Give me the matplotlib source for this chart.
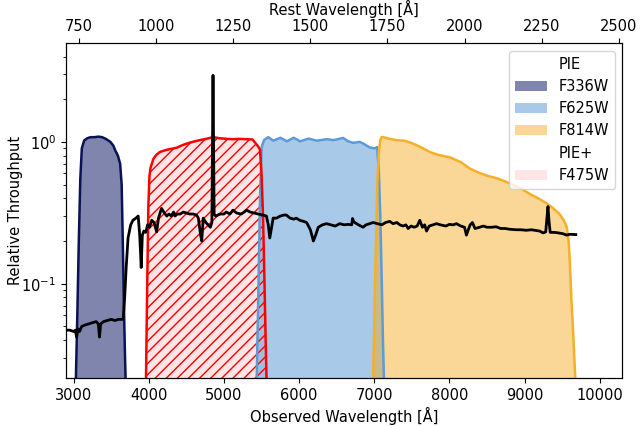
"""HST filter throughput curves over a z~3 galaxy spectrum."""
import matplotlib

matplotlib.use("Agg")
import matplotlib.pyplot as plt
from matplotlib.lines import Line2D

# redshift used for the rest-frame axis
ONE_PLUS_Z = 4.1

f336w_wl = [3010, 3030, 3050, 3070, 3090, 3110, 3140, 3180, 3225, 3280, 3330, 3380,
            3430, 3490, 3530, 3555, 3590, 3620, 3640, 3655, 3670, 3685, 3700, 3715]
f336w_tp = [0.005, 0.02, 0.06, 0.2, 0.55, 0.9, 1.02, 1.06, 1.08, 1.08, 1.09, 1.08,
            1.05, 1.0, 0.94, 0.87, 0.8, 0.70, 0.5, 0.2, 0.07, 0.03, 0.015, 0.004]

f475w_wl = [3945, 3963, 3980, 3995, 4010, 4025, 4063, 4100, 4150, 4240, 4373, 4450,
            4550, 4680, 4760, 4855, 4950, 5050, 5120, 5200, 5300, 5380, 5455, 5480,
            5500, 5520, 5540, 5555, 5568, 5585]
f475w_tp = [0.005, 0.02, 0.1, 0.35, 0.58, 0.66, 0.76, 0.81, 0.85, 0.88, 0.91, 0.95,
            0.99, 1.03, 1.05, 1.08, 1.06, 1.05, 1.045, 1.05, 1.045, 1.04, 0.93, 0.88,
            0.6, 0.3, 0.1, 0.04, 0.02, 0.006]

f625w_wl = [5420, 5435, 5460, 5480, 5502, 5533, 5590, 5657, 5750, 5838, 5927, 6015,
            6125, 6237, 6370, 6450, 6498, 6586, 6652, 6719, 6807, 6851, 6940, 7007,
            7037, 7060, 7080, 7100, 7115, 7130, 7145]
f625w_tp = [0.005, 0.02, 0.1, 0.4, 0.92, 1.03, 1.08, 1.02, 1.07, 1.01, 1.07, 1.01,
            1.055, 1.02, 1.045, 1.03, 1.04, 1.067, 1.01, 0.985, 1.0, 0.975, 0.913, 0.90,
            0.92, 0.63, 0.3, 0.1, 0.04, 0.02, 0.005]

f814w_wl = [6970, 6984, 7010, 7040, 7060, 7080, 7100, 7150, 7200, 7295, 7400, 7500,
            7560, 7650, 7737, 7850, 8002, 8150, 8268, 8380, 8490, 8650, 8800, 8950,
            9066, 9180, 9288, 9380, 9463, 9520, 9560, 9585, 9600, 9620, 9641, 9676, 9695]
f814w_tp = [0.005, 0.02, 0.1, 0.5, 0.85, 1.03, 1.085, 1.07, 1.05, 1.03, 1.02, 0.98,
            0.95, 0.9, 0.85, 0.81, 0.78, 0.72, 0.65, 0.61, 0.58, 0.55, 0.51, 0.47,
            0.43, 0.40, 0.37, 0.34, 0.31, 0.28, 0.25, 0.2, 0.146, 0.08, 0.05, 0.02, 0.005]

spec_wl = [2900, 2950, 3000, 3025, 3040, 3060, 3080, 3110, 3150, 3200, 3250, 3300,
           3330, 3345, 3360, 3400, 3450, 3500, 3550, 3600, 3660, 3680, 3700, 3725,
           3760, 3790, 3830, 3860, 3880, 3900, 3915, 3935, 3960, 3985, 4010, 4040,
           4070, 4105, 4130, 4170, 4200, 4240, 4270, 4300, 4330, 4350, 4380, 4420,
           4460, 4500, 4545, 4590, 4635, 4660, 4690, 4705, 4725, 4760, 4790, 4820,
           4840, 4855, 4870, 4890, 4950, 5000, 5030, 5080, 5120, 5170, 5230, 5270,
           5300, 5350, 5400, 5455, 5520, 5565, 5590, 5610, 5635, 5655, 5700, 5750,
           5800, 5830, 5880, 5930, 5960, 6010, 6060, 6100, 6150, 6190, 6220, 6255,
           6310, 6365, 6420, 6480, 6540, 6600, 6650, 6700, 6710, 6725, 6740, 6790,
           6850, 6890, 6940, 6985, 7040, 7100, 7150, 7205, 7250, 7300, 7340, 7380,
           7420, 7450, 7490, 7530, 7570, 7605, 7640, 7670, 7695, 7730, 7780, 7828,
           7880, 7950, 8000, 8050, 8093, 8150, 8200, 8225, 8250, 8275, 8305, 8340,
           8400, 8450, 8500, 8560, 8620, 8680, 8740, 8800, 8890, 8950, 9020, 9090,
           9155, 9200, 9245, 9280, 9310, 9325, 9340, 9400, 9450, 9510, 9560, 9600,
           9680]
spec_flux = [0.047, 0.047, 0.046, 0.047, 0.042, 0.048, 0.046, 0.050, 0.051, 0.052, 0.053, 0.054,
             0.052, 0.042, 0.052, 0.054, 0.055, 0.056, 0.055, 0.056, 0.056, 0.08, 0.13, 0.21,
             0.26, 0.28, 0.29, 0.30, 0.22, 0.13, 0.22, 0.235, 0.23, 0.26, 0.25, 0.28,
             0.27, 0.232, 0.29, 0.34, 0.32, 0.30, 0.31, 0.30, 0.32, 0.30, 0.31, 0.31,
             0.32, 0.315, 0.31, 0.31, 0.305, 0.29, 0.22, 0.20, 0.29, 0.27, 0.26, 0.25,
             0.27, 2.95, 0.31, 0.30, 0.31, 0.31, 0.32, 0.31, 0.33, 0.315, 0.31, 0.32,
             0.33, 0.32, 0.315, 0.31, 0.305, 0.30, 0.26, 0.21, 0.25, 0.29, 0.29, 0.30,
             0.305, 0.305, 0.29, 0.285, 0.29, 0.28, 0.275, 0.27, 0.24, 0.20, 0.22, 0.25,
             0.26, 0.265, 0.26, 0.255, 0.265, 0.26, 0.262, 0.26, 0.288, 0.275, 0.27, 0.26,
             0.25, 0.26, 0.265, 0.27, 0.265, 0.26, 0.27, 0.275, 0.265, 0.27, 0.26, 0.255,
             0.26, 0.245, 0.255, 0.25, 0.255, 0.28, 0.25, 0.26, 0.235, 0.255, 0.26, 0.265,
             0.26, 0.255, 0.262, 0.26, 0.265, 0.255, 0.25, 0.22, 0.24, 0.26, 0.27, 0.245,
             0.25, 0.255, 0.25, 0.25, 0.252, 0.245, 0.245, 0.242, 0.24, 0.24, 0.238, 0.24,
             0.237, 0.235, 0.228, 0.232, 0.35, 0.27, 0.23, 0.23, 0.228, 0.225, 0.22, 0.223,
             0.222]

plt.rcParams["font.size"] = 10.5

fig = plt.figure(figsize=(6.41, 4.26), dpi=100)
ax = fig.add_axes([0.103, 0.112, 0.868, 0.786])

floor = 1e-3
h336 = ax.fill_between(f336w_wl, f336w_tp, floor, color="#010d5d", alpha=0.5, lw=0, label="F336W")
h475 = ax.fill_between(f475w_wl, f475w_tp, floor, color="red", alpha=0.1, lw=0, label="F475W")
h625 = ax.fill_between(f625w_wl, f625w_tp, floor, color="#4289d0", alpha=0.45, lw=0, label="F625W")
h814 = ax.fill_between(f814w_wl, f814w_tp, floor, color="#f4a816", alpha=0.45, lw=0, label="F814W")
ax.fill_between(f475w_wl, f475w_tp, floor, facecolor="none", edgecolor="red", hatch="///", lw=0)

ax.plot(f336w_wl, f336w_tp, color="#0a1255", lw=1.8)
ax.plot(f625w_wl, f625w_tp, color="#5b9bd8", lw=1.8)
ax.plot(f814w_wl, f814w_tp, color="#f5b028", lw=1.8)
ax.plot(f475w_wl, f475w_tp, color="red", lw=1.8)
ax.plot(spec_wl, spec_flux, color="black", lw=2)

ax.set_yscale("log")
ax.set_xlim(2900, 10300)
ax.set_ylim(0.0215, 4.95)
ax.set_xlabel("Observed Wavelength [Å]", labelpad=3)
ax.set_ylabel("Relative Throughput", labelpad=-1)

ax2 = ax.twiny()
ax2.set_xlim(2900 / ONE_PLUS_Z, 10300 / ONE_PLUS_Z)
ax2.set_xlabel("Rest Wavelength [Å]", labelpad=2.5)

blank = Line2D([], [], color="none")
handles = [blank, h336, h625, h814, blank, h475]
labels = ["PIE", "F336W", "F625W", "F814W", "PIE+", "F475W"]
ax.legend(handles, labels, loc="upper right", handlelength=2.2)

fig.savefig("out.png", dpi=100)
